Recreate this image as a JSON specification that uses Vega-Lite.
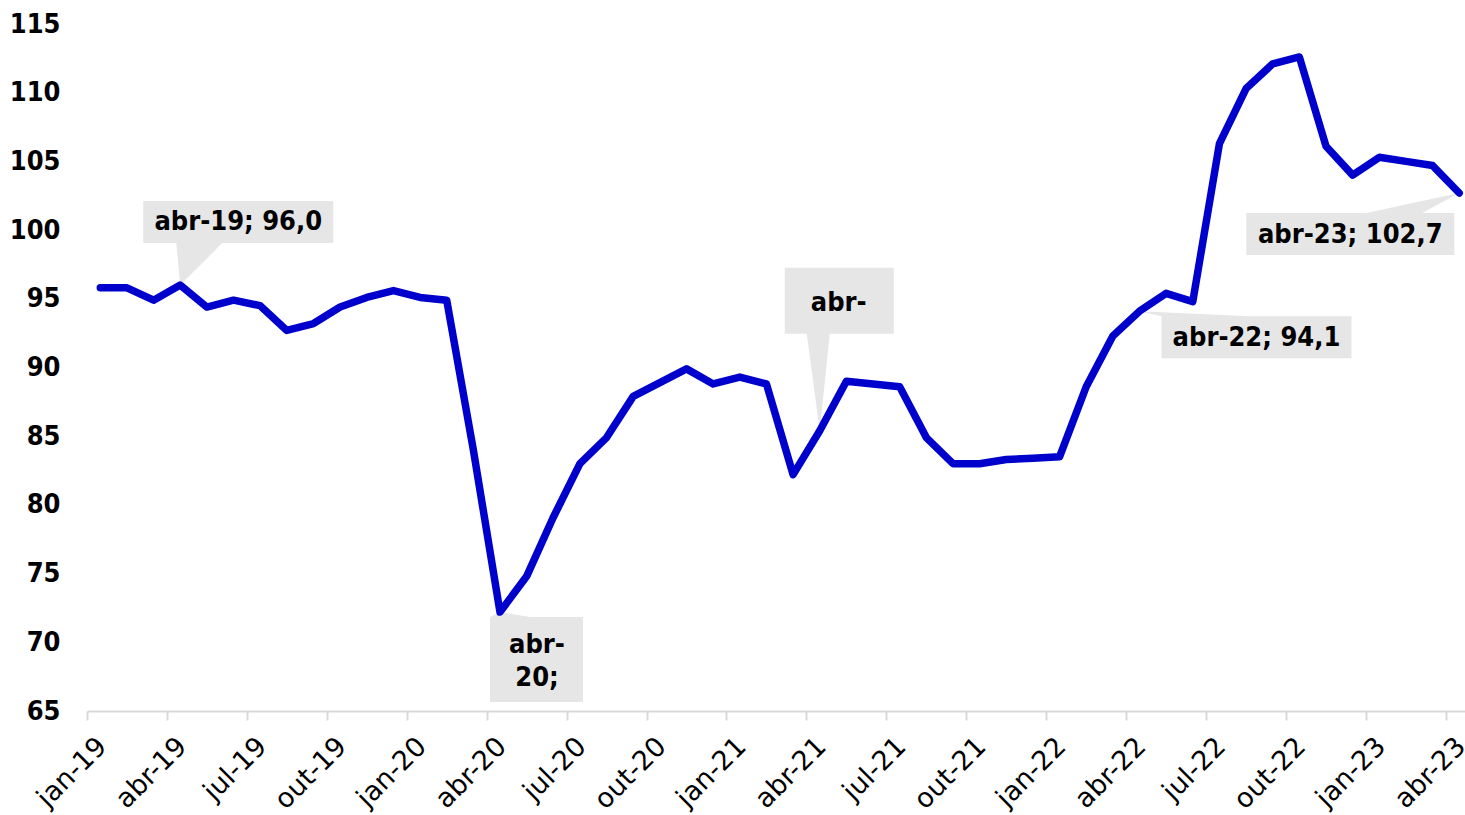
{
  "$schema": "https://vega.github.io/schema/vega-lite/v6.json",
  "width": 1378,
  "height": 687,
  "autosize": {"type": "none"},
  "padding": {"left": 87, "top": 24, "right": 0, "bottom": 104},
  "background": "white",
  "config": {
    "view": {"stroke": null},
    "font": "DejaVu Sans Condensed, DejaVu Sans"
  },
  "data": {
    "values": [
      {"month": "jan-19", "value": 95.8}, {"month": "fev-19", "value": 95.8}, {"month": "mar-19", "value": 94.9},
      {"month": "abr-19", "value": 96.0}, {"month": "mai-19", "value": 94.4}, {"month": "jun-19", "value": 94.9},
      {"month": "jul-19", "value": 94.5}, {"month": "ago-19", "value": 92.7}, {"month": "set-19", "value": 93.2},
      {"month": "out-19", "value": 94.4}, {"month": "nov-19", "value": 95.1}, {"month": "dez-19", "value": 95.6},
      {"month": "jan-20", "value": 95.1}, {"month": "fev-20", "value": 94.9}, {"month": "mar-20", "value": 84.0},
      {"month": "abr-20", "value": 72.2}, {"month": "mai-20", "value": 74.8}, {"month": "jun-20", "value": 79.1},
      {"month": "jul-20", "value": 83.0}, {"month": "ago-20", "value": 84.9}, {"month": "set-20", "value": 87.9},
      {"month": "out-20", "value": 88.9}, {"month": "nov-20", "value": 89.9}, {"month": "dez-20", "value": 88.8},
      {"month": "jan-21", "value": 89.3}, {"month": "fev-21", "value": 88.8}, {"month": "mar-21", "value": 82.2},
      {"month": "abr-21", "value": 85.4}, {"month": "mai-21", "value": 89.0}, {"month": "jun-21", "value": 88.8},
      {"month": "jul-21", "value": 88.6}, {"month": "ago-21", "value": 84.9}, {"month": "set-21", "value": 83.0},
      {"month": "out-21", "value": 83.0}, {"month": "nov-21", "value": 83.3}, {"month": "dez-21", "value": 83.4},
      {"month": "jan-22", "value": 83.5}, {"month": "fev-22", "value": 88.6}, {"month": "mar-22", "value": 92.3},
      {"month": "abr-22", "value": 94.1}, {"month": "mai-22", "value": 95.4}, {"month": "jun-22", "value": 94.8},
      {"month": "jul-22", "value": 106.3}, {"month": "ago-22", "value": 110.3}, {"month": "set-22", "value": 112.1},
      {"month": "out-22", "value": 112.6}, {"month": "nov-22", "value": 106.1}, {"month": "dez-22", "value": 104.0},
      {"month": "jan-23", "value": 105.3}, {"month": "fev-23", "value": 105.0}, {"month": "mar-23", "value": 104.7},
      {"month": "abr-23", "value": 102.7}
    ]
  },
  "transform": [
    {"calculate": "datum.month + '; ' + replace(format(datum.value, '.1f'), '.', ',')", "as": "label"}
  ],
  "encoding": {
    "x": {
      "field": "month",
      "type": "ordinal",
      "scale": {
        "type": "point",
        "padding": 0.358,
        "align": 0.698,
        "domain": [
          "jan-19", "fev-19", "mar-19", "abr-19", "mai-19", "jun-19", "jul-19", "ago-19", "set-19", "out-19", "nov-19", "dez-19",
          "jan-20", "fev-20", "mar-20", "abr-20", "mai-20", "jun-20", "jul-20", "ago-20", "set-20", "out-20", "nov-20", "dez-20",
          "jan-21", "fev-21", "mar-21", "abr-21", "mai-21", "jun-21", "jul-21", "ago-21", "set-21", "out-21", "nov-21", "dez-21",
          "jan-22", "fev-22", "mar-22", "abr-22", "mai-22", "jun-22", "jul-22", "ago-22", "set-22", "out-22", "nov-22", "dez-22",
          "jan-23", "fev-23", "mar-23", "abr-23"
        ]
      },
      "axis": {
        "title": null,
        "values": ["jan-19", "abr-19", "jul-19", "out-19", "jan-20", "abr-20", "jul-20", "out-20", "jan-21", "abr-21", "jul-21", "out-21", "jan-22", "abr-22", "jul-22", "out-22", "jan-23", "abr-23"],
        "grid": false,
        "labelAngle": -45,
        "labelAlign": "right",
        "labelBaseline": "middle",
        "labelFont": "DejaVu Sans",
        "labelFontSize": 27,
        "labelFontWeight": "normal",
        "labelColor": "#000000",
        "labelPadding": 22,
        "labelOverlap": false,
        "tickOffset": -13.32,
        "labelOffset": 15,
        "tickSize": 9,
        "tickWidth": 2,
        "tickColor": "#D9D9D9",
        "domainColor": "#D9D9D9",
        "domainWidth": 2
      }
    },
    "y": {
      "field": "value",
      "type": "quantitative",
      "scale": {"domain": [65, 115], "nice": false, "zero": false},
      "axis": {
        "title": null,
        "values": [65, 70, 75, 80, 85, 90, 95, 100, 105, 110, 115],
        "domain": false,
        "ticks": false,
        "grid": false,
        "labelFontSize": 27,
        "labelFontWeight": "bold",
        "labelColor": "#000000",
        "labelPadding": 27
      }
    }
  },
  "layer": [
    {
      "transform": [{"filter": "datum.month === 'abr-19'"}],
      "mark": {"type": "point", "shape": "M-37,-84L153,-84L153,-42L42,-42L0,0L-4,-42L-37,-42Z", "size": 4, "filled": true, "fill": "#E6E6E6", "strokeWidth": 0, "opacity": 1}
    },
    {
      "transform": [{"filter": "datum.month === 'abr-20'"}],
      "mark": {"type": "point", "shape": "M0,0L30,5L83,5L83,90L-10,90L-10,5Z", "size": 4, "filled": true, "fill": "#E6E6E6", "strokeWidth": 0, "opacity": 1}
    },
    {
      "transform": [{"filter": "datum.month === 'abr-21'"}],
      "mark": {"type": "point", "shape": "M-35,-163L74,-163L74,-97L10,-97L0,0L-13,-97L-35,-97Z", "size": 4, "filled": true, "fill": "#E6E6E6", "strokeWidth": 0, "opacity": 1}
    },
    {
      "transform": [{"filter": "datum.month === 'abr-22'"}],
      "mark": {"type": "point", "shape": "M0,0L110,5L212,5L212,47L22,47L22,5Z", "size": 4, "filled": true, "fill": "#E6E6E6", "strokeWidth": 0, "opacity": 1}
    },
    {
      "transform": [{"filter": "datum.month === 'abr-23'"}],
      "mark": {"type": "point", "shape": "M-213,20L-93,20L0,0L-37,20L-5,20L-5,62L-213,62Z", "size": 4, "filled": true, "fill": "#E6E6E6", "strokeWidth": 0, "opacity": 1}
    },
    {
      "mark": {"type": "line", "color": "#0000CC", "strokeWidth": 7.5, "strokeJoin": "round", "strokeCap": "round"}
    },
    {
      "transform": [{"filter": "datum.month === 'abr-19'"}],
      "mark": {"type": "text", "fontSize": 27, "fontWeight": "bold", "color": "#000000", "align": "center", "baseline": "middle", "dx": 58, "dy": -63},
      "encoding": {"text": {"field": "label"}}
    },
    {
      "transform": [{"filter": "datum.month === 'abr-20'"}],
      "mark": {"type": "text", "text": ["abr-", "20;"], "lineHeight": 33, "fontSize": 27, "fontWeight": "bold", "color": "#000000", "align": "center", "baseline": "middle", "dx": 37, "dy": 33}
    },
    {
      "transform": [{"filter": "datum.month === 'abr-21'"}],
      "mark": {"type": "text", "text": "abr-", "fontSize": 27, "fontWeight": "bold", "color": "#000000", "align": "center", "baseline": "middle", "dx": 19, "dy": -128}
    },
    {
      "transform": [{"filter": "datum.month === 'abr-22'"}],
      "mark": {"type": "text", "fontSize": 27, "fontWeight": "bold", "color": "#000000", "align": "center", "baseline": "middle", "dx": 117, "dy": 27},
      "encoding": {"text": {"field": "label"}}
    },
    {
      "transform": [{"filter": "datum.month === 'abr-23'"}],
      "mark": {"type": "text", "fontSize": 27, "fontWeight": "bold", "color": "#000000", "align": "center", "baseline": "middle", "dx": -109, "dy": 42},
      "encoding": {"text": {"field": "label"}}
    }
  ]
}
